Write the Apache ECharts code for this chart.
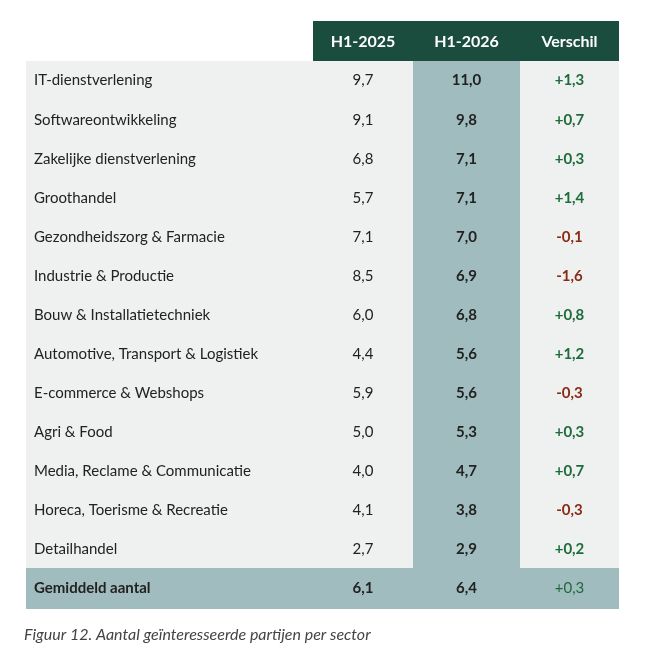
<!DOCTYPE html>
<html>
<head>
<meta charset="utf-8" />
<title>Figuur 12</title>
<script src="https://cdn.jsdelivr.net/npm/echarts@6/dist/echarts.min.js"></script>
<style>html,body{margin:0;padding:0;background:#fff}#chart{width:648px;height:656px}</style>
</head>
<body>
<div id="chart"></div>
<script>
// data
var headers = ['', 'H1-2025', 'H1-2026', 'Verschil'];
var sectors = ['IT-dienstverlening', 'Softwareontwikkeling', 'Zakelijke dienstverlening', 'Groothandel',
	'Gezondheidszorg & Farmacie', 'Industrie & Productie', 'Bouw & Installatietechniek',
	'Automotive, Transport & Logistiek', 'E-commerce & Webshops', 'Agri & Food',
	'Media, Reclame & Communicatie', 'Horeca, Toerisme & Recreatie', 'Detailhandel'];
var h2025 = ['9,7', '9,1', '6,8', '5,7', '7,1', '8,5', '6,0', '4,4', '5,9', '5,0', '4,0', '4,1', '2,7'];
var h2026 = ['11,0', '9,8', '7,1', '7,1', '7,0', '6,9', '6,8', '5,6', '5,6', '5,3', '4,7', '3,8', '2,9'];
var verschil = ['+1,3', '+0,7', '+0,3', '+1,4', '-0,1', '-1,6', '+0,8', '+1,2', '-0,3', '+0,3', '+0,7', '-0,3', '+0,2'];
var avgRow = ['Gemiddeld aantal', '6,1', '6,4', '+0,3'];
var caption = 'Figuur 12. Aantal geïnteresseerde partijen per sector';

// layout
var colEdges = [0, 287, 387, 494, 593];
var rowNames = ['header'].concat(sectors).concat(['avg']);
var cells = [];
var last = rowNames.length - 1;
rowNames.forEach(function (name, r) {
	var vals;
	if (r === 0) vals = headers;
	else if (r === last) vals = avgRow;
	else vals = [sectors[r - 1], h2025[r - 1], h2026[r - 1], verschil[r - 1]];
	vals.forEach(function (v, c) { cells.push([c, r, v]); });
});

function cellStyle(c, r, v) {
	var s = { bg: '#eef1f0', color: '#222', weight: 'normal' };
	if (r === 0) {
		s.bg = c === 0 ? null : '#1b4d3e';
		s.color = '#fff'; s.weight = 'bold';
	} else if (r === last) {
		s.bg = '#a0bcbe';
		s.weight = c === 3 ? 'normal' : 'bold';
	} else if (c === 2) {
		s.bg = '#a0bcbe'; s.weight = 'bold';
	}
	if (c === 3 && r > 0) {
		s.color = v.charAt(0) === '-' ? '#8a2b17' : '#1e6b3c';
		if (r !== last) s.weight = 'bold';
	}
	return s;
}

var chart = echarts.init(document.getElementById('chart'));
chart.setOption({
	animation: false,
	grid: { left: 26, top: 22, width: 593, height: 586 },
	xAxis: { type: 'value', min: 0, max: 593, show: false },
	yAxis: { type: 'category', data: rowNames, inverse: true, show: false },
	graphic: [{
		type: 'text', left: 24, top: 627,
		style: { text: caption, font: 'italic 16px Lato', fill: '#444' }
	}],
	series: [{
		type: 'custom',
		data: cells,
		renderItem: function (params, api) {
			var c = api.value(0), r = api.value(1);
			var v = cells[params.dataIndex][2];
			var p0 = api.coord([colEdges[c], r]);
			var p1 = api.coord([colEdges[c + 1], r]);
			var h = api.size([0, 1])[1];
			var s = cellStyle(c, r, v);
			var children = [];
			if (s.bg) children.push({
				type: 'rect',
				shape: { x: p0[0], y: Math.floor(p0[1] - h / 2), width: p1[0] - p0[0], height: Math.ceil(h) + 1 },
				style: { fill: s.bg }
			});
			children.push({
				type: 'text',
				x: c === 0 ? p0[0] + 8 : (p0[0] + p1[0]) / 2,
				y: p0[1],
				z2: 10,
				style: {
					text: v, fill: s.color,
					font: s.weight + ' ' + (r === 0 ? 16 : 15) + 'px Lato',
					align: c === 0 ? 'left' : 'center', verticalAlign: 'middle'
				}
			});
			return { type: 'group', children: children };
		}
	}]
});
</script>
</body>
</html>
